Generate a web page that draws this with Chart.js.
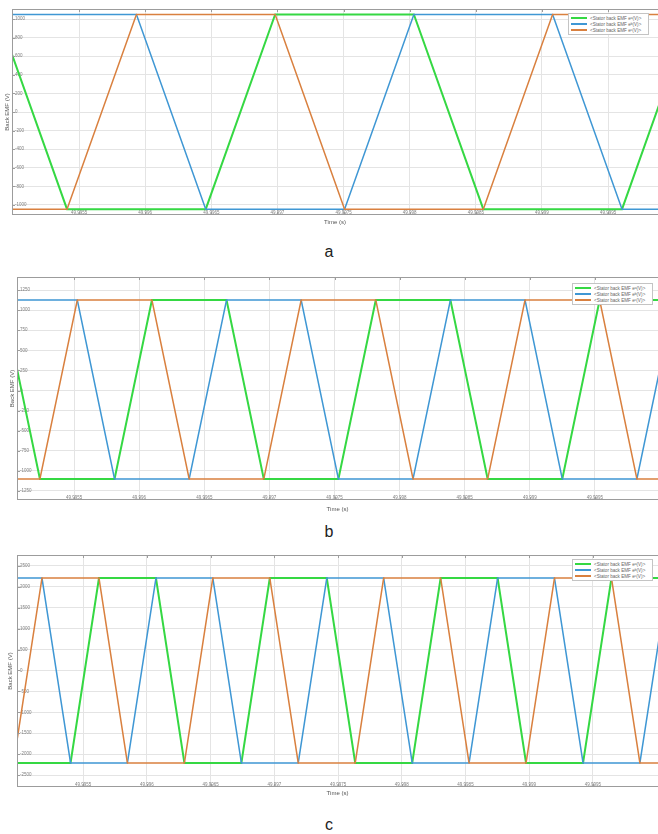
<!DOCTYPE html>
<html>
<head>
<meta charset="utf-8">
<script src="https://cdn.jsdelivr.net/npm/chart.js@4"></script>
<style>
  body { margin: 0; background: #fff; width: 658px; height: 834px; overflow: hidden; position: relative; font-family: "Liberation Sans", Arial, sans-serif; }
  .panel { position: absolute; left: 0; }
  .legend { position: absolute; width: 75px; background: #fff; border: 1px solid #c4c4c4; font-size: 4.6px; color: #666; padding: 1px 2px; white-space: nowrap; }
  .legend .row { display: flex; align-items: center; height: 6px; }
  .legend .ln { display: block; width: 16px; height: 2px; margin-right: 3px; }
  .legend sub { font-size: 3.2px; }
  .tag { position: absolute; left: 0; width: 658px; text-align: center; font-size: 16px; color: #222; line-height: 18px; }
</style>
</head>
<body>
<div class="panel" style="top:0"><canvas id="chartA" width="658" height="226"></canvas></div>
<div class="panel" style="top:268px"><canvas id="chartB" width="658" height="245"></canvas></div>
<div class="panel" style="top:546px"><canvas id="chartC" width="658" height="251"></canvas></div>

<div class="legend" style="left:568px;top:13px"><div class="row"><span class="ln" style="background:#35d843"></span>&lt;Stator back EMF e<sub>a</sub> (V)&gt;</div><div class="row"><span class="ln" style="background:#3f97d4"></span>&lt;Stator back EMF e<sub>b</sub> (V)&gt;</div><div class="row"><span class="ln" style="background:#d9803f"></span>&lt;Stator back EMF e<sub>c</sub> (V)&gt;</div></div>
<div class="legend" style="left:572px;top:283px"><div class="row"><span class="ln" style="background:#35d843"></span>&lt;Stator back EMF e<sub>a</sub> (V)&gt;</div><div class="row"><span class="ln" style="background:#3f97d4"></span>&lt;Stator back EMF e<sub>b</sub> (V)&gt;</div><div class="row"><span class="ln" style="background:#d9803f"></span>&lt;Stator back EMF e<sub>c</sub> (V)&gt;</div></div>
<div class="legend" style="left:572px;top:559px"><div class="row"><span class="ln" style="background:#35d843"></span>&lt;Stator back EMF e<sub>a</sub> (V)&gt;</div><div class="row"><span class="ln" style="background:#3f97d4"></span>&lt;Stator back EMF e<sub>b</sub> (V)&gt;</div><div class="row"><span class="ln" style="background:#d9803f"></span>&lt;Stator back EMF e<sub>c</sub> (V)&gt;</div></div>

<div class="tag" style="top:243px">a</div>
<div class="tag" style="top:523px">b</div>
<div class="tag" style="top:816px">c</div>

<script>
// time ticks shared by the three panels (s)
const timeTicks = [49.9955, 49.996, 49.9965, 49.997, 49.9975, 49.998, 49.9985, 49.999, 49.9995];

// panel a: corner points of the trapezoidal back EMF
const aTime = [49.994885, 49.995409, 49.995934, 49.996458, 49.996983, 49.997508, 49.998032, 49.998557, 49.999081, 49.999606, 50.00013];
const aEa = [1050, -1045, -1045, -1045, 1050, 1050, 1050, -1045, -1045, -1045, 1050];
const aEb = [1050, 1050, 1050, -1045, -1045, -1045, 1050, 1050, 1050, -1045, -1045];
const aEc = [-1045, -1045, 1050, 1050, 1050, -1045, -1045, -1045, 1050, 1050, 1050];
const aTicks = [-1000, -800, -600, -400, -200, 0, 200, 400, 600, 800, 1000];

// panel b
const bTime = [49.994952, 49.995238, 49.995525, 49.995811, 49.996098, 49.996384, 49.996671, 49.996957, 49.997244, 49.99753,
  49.997817, 49.998103, 49.99839, 49.998676, 49.998963, 49.999249, 49.999536, 49.999822, 50.000109];
const bEa = [1125, -1100, -1100, -1100, 1125, 1125, 1125, -1100, -1100, -1100, 1125, 1125, 1125, -1100, -1100, -1100, 1125, 1125, 1125];
const bEb = [1125, 1125, 1125, -1100, -1100, -1100, 1125, 1125, 1125, -1100, -1100, -1100, 1125, 1125, 1125, -1100, -1100, -1100, 1125];
const bEc = [-1100, -1100, 1125, 1125, 1125, -1100, -1100, -1100, 1125, 1125, 1125, -1100, -1100, -1100, 1125, 1125, 1125, -1100, -1100];
const bTicks = [-1250, -1000, -750, -500, -250, 0, 250, 500, 750, 1000, 1250];

// panel c
const cTime = [49.994955, 49.995178, 49.995402, 49.995625, 49.995848, 49.996072, 49.996295, 49.996518, 49.996742, 49.996965,
  49.997188, 49.997412, 49.997635, 49.997858, 49.998082, 49.998305, 49.998528, 49.998752, 49.998975, 49.999198,
  49.999422, 49.999645, 49.999868, 50.000092];
const cEa = [-2210, -2210, -2210, 2210, 2210, 2210, -2210, -2210, -2210, 2210, 2210, 2210,
  -2210, -2210, -2210, 2210, 2210, 2210, -2210, -2210, -2210, 2210, 2210, 2210];
const cEb = [2210, 2210, -2210, -2210, -2210, 2210, 2210, 2210, -2210, -2210, -2210, 2210,
  2210, 2210, -2210, -2210, -2210, 2210, 2210, 2210, -2210, -2210, -2210, 2210];
const cEc = [-2210, 2210, 2210, 2210, -2210, -2210, -2210, 2210, 2210, 2210, -2210, -2210,
  -2210, 2210, 2210, 2210, -2210, -2210, -2210, 2210, 2210, 2210, -2210, -2210];
const cTicks = [-2500, -2000, -1500, -1000, -500, 0, 500, 1000, 1500, 2000, 2500];

const GREEN = "#35d843", BLUE = "#3f97d4", ORANGE = "#d9803f";

// box round the plot with small inward tick marks
const frame = {
  id: "frame",
  afterDatasetsDraw(chart) {
    const { ctx, chartArea: area, scales } = chart;
    ctx.save();
    ctx.strokeStyle = "#9c9c9c";
    ctx.lineWidth = 1;
    ctx.strokeRect(area.left + 0.5, area.top + 0.5, area.right - area.left, area.bottom - area.top - 1);
    ctx.beginPath();
    scales.x.ticks.forEach((tick) => {
      const x = Math.round(scales.x.getPixelForValue(tick.value)) + 0.5;
      ctx.moveTo(x, area.top); ctx.lineTo(x, area.top + 3);
      ctx.moveTo(x, area.bottom); ctx.lineTo(x, area.bottom - 3);
    });
    scales.y.ticks.forEach((tick) => {
      const y = Math.round(scales.y.getPixelForValue(tick.value)) + 0.5;
      ctx.moveTo(area.left, y); ctx.lineTo(area.left + 3, y);
    });
    ctx.stroke();
    ctx.restore();
  },
};

function series(label, time, values, color, width) {
  return {
    label,
    data: time.map((t, i) => ({ x: t, y: values[i] })),
    borderColor: color,
    borderWidth: width,
    pointRadius: 0,
    tension: 0,
  };
}

function drawPanel(id, time, ea, eb, ec, yTicks, box) {
  new Chart(document.getElementById(id), {
    type: "line",
    data: {
      datasets: [
        series("<Stator back EMF e_c (V)>", time, ec, ORANGE, 1.5),
        series("<Stator back EMF e_b (V)>", time, eb, BLUE, 1.5),
        series("<Stator back EMF e_a (V)>", time, ea, GREEN, 2),
      ],
    },
    options: {
      animation: false,
      responsive: false,
      layout: { padding: { left: 0, top: 9, right: 0, bottom: 0 } },
      plugins: { legend: { display: false }, tooltip: { enabled: false } },
      scales: {
        x: {
          type: "linear",
          min: box.xMin,
          max: box.xMax,
          afterBuildTicks: (scale) => { scale.ticks = timeTicks.map((value) => ({ value })); },
          afterFit: (scale) => { scale.height = box.xh; },
          grid: { color: "#e4e4e4", drawTicks: false },
          border: { display: false },
          // mirror keeps the labels inside the plot, just above the bottom edge
          ticks: { mirror: true, autoSkip: false, maxRotation: 0, padding: 0, color: "#808080", font: { size: 4.5 }, callback: (v) => String(+v.toFixed(4)) },
          title: { display: true, text: "Time (s)", padding: 0, color: "#555", font: { size: 6 } },
        },
        y: {
          min: box.yMin,
          max: box.yMax,
          afterBuildTicks: (scale) => { scale.ticks = yTicks.map((value) => ({ value })); },
          afterFit: (scale) => { scale.width = box.yw; },
          grid: { color: "#e4e4e4", drawTicks: false },
          border: { display: false },
          ticks: { mirror: true, padding: 3, color: "#808080", font: { size: 4.5 }, callback: (v) => String(v) },
          title: { display: true, text: "Back EMF (V)", padding: { top: box.tp, bottom: 0 }, color: "#555", font: { size: 6 } },
        },
      },
    },
    plugins: [frame],
  });
}

drawPanel("chartA", aTime, aEa, aEb, aEc, aTicks, { xMin: 49.994993, xMax: 49.999878, yMin: -1108, yMax: 1108, xh: 11, yw: 12, tp: 3.4 });
drawPanel("chartB", bTime, bEa, bEb, bEc, bTicks, { xMin: 49.995062, xMax: 49.999984, yMin: -1362, yMax: 1412, xh: 13, yw: 17, tp: 8.4 });
drawPanel("chartC", cTime, cEa, cEb, cEc, cTicks, { xMin: 49.994982, xMax: 50.00001, yMin: -2787, yMax: 2763, xh: 10, yw: 17, tp: 6.4 });
</script>
</body>
</html>
